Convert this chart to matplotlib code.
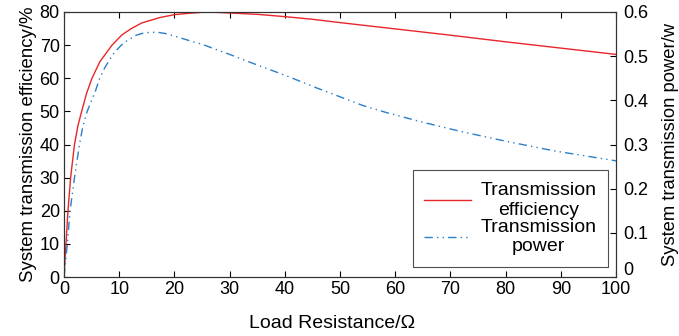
import matplotlib
matplotlib.use("Agg")
import matplotlib.pyplot as plt
from matplotlib.transforms import ScaledTranslation

plt.rcParams['font.family'] = ['Liberation Sans', 'DejaVu Sans']

# Efficiency curve (left axis, %)
eff_x = [0, 0.12, 0.36, 0.72, 1.2, 1.9, 2.5, 3.2, 4.1, 5.07, 6.5, 8.7, 10.5, 12.2, 14.1, 17.3,
         20, 22.5, 25, 27.5, 30, 35, 40, 45, 50, 60, 70, 80, 90, 100]
eff_y = [0, 3.6, 10, 20, 30, 40, 45.5, 50, 55.5, 60, 65, 70, 73.1, 75.0, 76.7, 78.3,
         79.2, 79.6, 79.9, 79.9, 79.7, 79.3, 78.6, 77.8, 76.8, 74.9, 73.0, 71.0, 69.1, 67.2]

# Power curve (right axis, W)
pow_x = [0, 0.25, 0.6, 1.1, 1.9, 2.8, 3.4, 4.2, 5.0, 5.67, 6.46, 7.36, 8.3, 9.3, 10.4, 11.3,
         12.3, 13.1, 14.3, 15.6, 17, 18.5, 20.4, 22.5, 25.2, 30, 35, 40, 45.8, 50, 54.2,
         58.5, 64.5, 71.7, 80.2, 88.6, 100]
pow_y = [0, 0.03, 0.075, 0.15, 0.225, 0.3, 0.34, 0.375, 0.40, 0.42, 0.45, 0.473, 0.493,
         0.511, 0.525, 0.534, 0.5415, 0.5475, 0.552, 0.554, 0.554, 0.551, 0.544, 0.536,
         0.526, 0.504, 0.480, 0.457, 0.428, 0.408, 0.388, 0.372, 0.352, 0.330, 0.307,
         0.286, 0.263]

x_ticks = [0, 10, 20, 30, 40, 50, 60, 70, 80, 90, 100]
left_ticks = [0, 10, 20, 30, 40, 50, 60, 70, 80]
right_ticks = [0, 0.1, 0.2, 0.3, 0.4, 0.5, 0.6]
right_labels = ['0', '0.1', '0.2', '0.3', '0.4', '0.5', '0.6']

fig = plt.figure(figsize=(6.79, 3.36), dpi=100)
ax = fig.add_axes([64/679, 1 - 277/336, (616-64)/679, (277-12)/336])
ax2 = ax.twinx()

fs = 13
l1, = ax.plot(eff_x, eff_y, color='#e8262a', lw=1.0, label='Transmission\nefficiency')
l2, = ax2.plot(pow_x, pow_y, color='#2a7fc9', lw=1.0, linestyle=(0, (6, 3, 1, 3, 1, 3)),
               label='Transmission\npower')

ax.set_xlim(0, 100)
ax.set_ylim(0, 80)
ax2.set_ylim(0, 0.6)
ax.set_xticks(x_ticks)
ax.set_yticks(left_ticks)
ax2.set_yticks(right_ticks)
ax2.set_yticklabels(right_labels)

ax.tick_params(axis='x', direction='in', top=True, labelsize=fs, length=4, width=0.8, pad=3)
ax.tick_params(axis='y', direction='in', labelsize=fs, length=4, width=0.8, pad=3)
ax2.tick_params(axis='y', direction='in', labelsize=fs, length=4, width=0.8, pad=5)
for a in (ax, ax2):
    for s in a.spines.values():
        s.set_linewidth(0.8)
        s.set_color('#333333')

# shift right-axis "0" label upward as in reference
lbl0 = ax2.get_yticklabels()[0]
lbl0.set_transform(lbl0.get_transform() + ScaledTranslation(0, 6/72, fig.dpi_scale_trans))

ax.set_xlabel('Load Resistance/Ω', fontsize=14)
ax.xaxis.set_label_coords(0.485, -0.176)
ax.xaxis.label.set_va('center')
ax.set_ylabel('System transmission efficiency/%', fontsize=13.4, labelpad=2)
ax2.set_ylabel('System transmission power/w', fontsize=13.2, labelpad=10)

leg = ax.legend(handles=[l1, l2], loc='lower right', bbox_to_anchor=(0.986, 0.038),
                fontsize=14, frameon=True, fancybox=False, edgecolor='#222222',
                handlelength=2.4, borderpad=0.6, labelspacing=0.0, handletextpad=0.5,
                borderaxespad=0)
leg.get_frame().set_linewidth(0.8)
for t in leg.get_texts():
    t.set_multialignment('center')

fig.savefig('out.png', dpi=100)
